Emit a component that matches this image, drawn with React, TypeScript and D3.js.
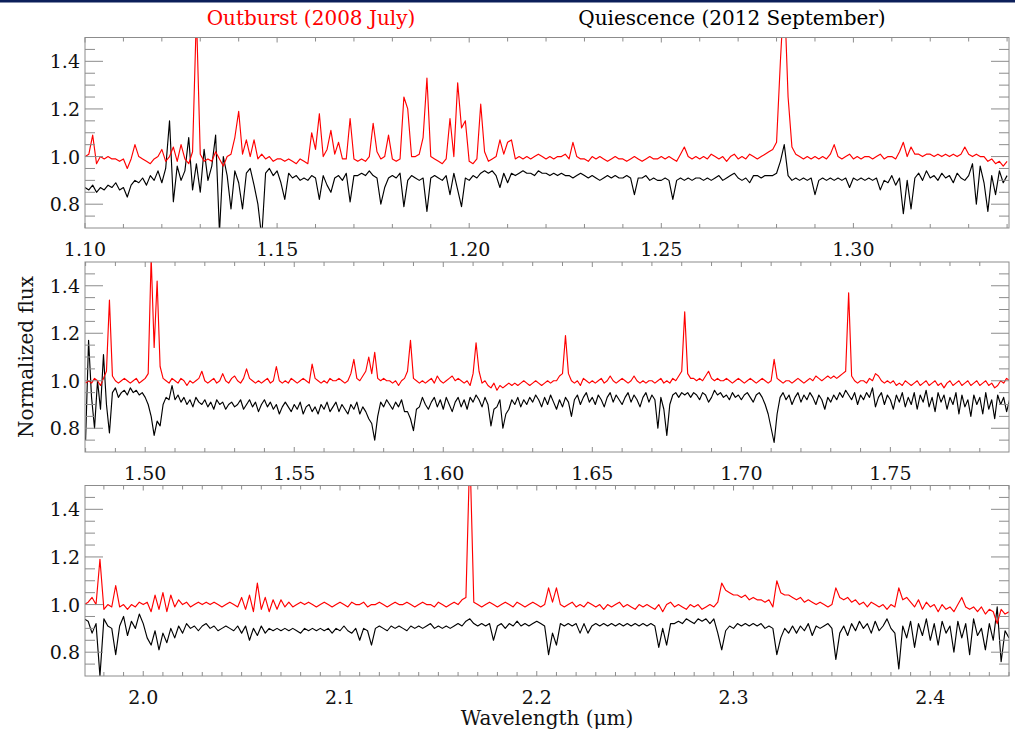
import React from "react";
import * as d3 from "d3";

// ---- Data: normalized flux x 100, sampled on uniform wavelength grids (µm) ----
const band1Start = 1.1;
const band1Step = 0.001;
const band1Outburst = [
  100,101,109,97,100,99,100,99,99,98,
  99,95,99,105,100,99,98,97,99,100,
  103,98,100,104,98,105,99,97,102,160,
  101,98,99,98,102,99,96,100,101,108,
  119,101,107,100,107,99,101,99,100,98,
  99,99,98,99,98,97,99,98,97,110,
  103,118,100,103,111,101,106,99,99,116,
  99,98,99,98,100,114,102,99,100,109,
  99,98,99,125,120,100,100,101,108,133,
  100,99,98,97,99,116,100,131,112,115,
  98,97,99,122,102,98,99,100,107,101,
  106,107,99,100,99,100,99,100,101,100,
  99,100,99,100,100,101,99,106,100,99,
  99,98,100,99,100,99,98,99,100,99,
  99,98,99,100,99,98,99,100,99,99,
  100,99,100,99,98,101,104,100,99,100,
  99,100,99,101,100,99,100,98,100,101,
  99,100,99,101,100,99,100,101,102,103,
  106,140,170,125,104,101,100,99,100,99,
  100,99,100,99,101,105,100,99,100,101,
  99,100,99,100,100,99,100,101,99,100,
  100,99,102,106,100,104,101,101,100,101,
  101,100,101,100,101,100,101,100,101,104,
  101,100,101,100,100,98,99,97,98,96,98,
];
const band1Quiescence = [
  87,86,88,85,87,86,88,87,89,86,
  87,83,88,90,89,91,88,92,90,94,
  89,95,115,81,96,90,94,108,86,97,
  85,103,90,96,109,68,100,92,78,94,
  89,78,93,95,88,80,66,93,95,92,
  94,89,82,93,91,92,90,91,90,92,
  91,82,92,88,85,91,92,90,93,81,
  92,92,93,92,94,92,91,80,87,91,
  92,91,93,79,90,92,91,90,91,77,
  91,92,91,90,92,84,93,86,79,91,
  90,92,91,93,94,93,94,92,87,93,
  89,93,92,93,94,93,93,92,94,93,
  93,92,93,92,93,92,92,91,92,93,
  92,91,92,91,90,91,92,91,92,91,
  91,92,91,84,91,91,92,90,91,90,
  90,91,90,82,90,91,90,91,90,91,
  91,90,91,90,91,92,90,91,92,93,
  91,90,91,89,92,92,91,92,92,92,
  93,98,105,92,90,91,90,91,90,91,
  84,90,91,90,91,90,91,90,91,87,
  91,90,91,90,91,90,91,86,90,89,
  92,88,91,76,90,78,91,93,90,94,
  91,92,90,93,91,92,89,93,91,90,
  92,97,80,96,89,77,92,84,94,89,92,
];

const band2Start = 1.48;
const band2Step = 0.001;
const band2Outburst = [
  99,100,99,101,100,98,101,104,134,102,
  100,99,100,101,100,99,100,101,99,100,
  101,103,152,114,142,106,101,100,99,101,
  100,99,101,100,98,100,99,100,101,104,
  100,99,100,101,99,100,103,100,99,101,
  102,100,99,101,105,101,100,99,100,99,
  100,101,99,100,106,100,99,100,99,101,
  100,99,100,101,100,99,107,101,100,99,
  100,99,101,100,100,101,100,99,100,103,
  109,101,100,102,104,110,103,112,101,100,
  101,100,100,99,100,98,100,101,104,117,
  101,100,99,100,99,100,101,99,102,100,
  99,100,101,102,100,101,100,99,100,98,
  103,116,104,99,100,98,97,99,96,98,
  97,98,99,98,99,98,99,100,99,98,
  99,100,99,98,99,100,99,100,100,102,
  103,119,103,100,99,100,98,101,100,99,
  100,99,100,101,99,100,102,100,99,100,
  101,100,99,100,102,100,99,100,99,100,
  100,99,100,101,99,100,99,101,100,102,
  104,129,103,101,101,100,101,100,102,104,
  101,100,101,100,100,101,100,99,100,101,
  100,99,100,101,100,99,100,101,100,99,
  100,109,101,100,99,100,100,99,100,101,
  100,99,100,101,100,102,101,100,101,102,
  101,102,101,102,103,104,137,102,100,99,
  100,100,99,101,100,103,102,100,99,100,
  99,100,98,99,98,100,99,98,99,100,
  98,99,100,98,99,100,98,99,97,99,
  100,98,99,100,98,99,100,98,99,100,
  98,99,100,98,99,97,98,100,99,101,100,
];
const band2Quiescence = [
  75,117,93,80,100,88,111,90,78,95,
  97,93,95,96,94,97,95,96,94,95,
  93,90,85,77,83,81,90,93,92,98,
  92,94,91,93,90,92,89,93,91,90,
  92,89,91,88,92,90,91,88,90,91,
  89,90,92,88,90,92,89,91,87,90,
  92,89,91,88,90,86,89,91,89,87,
  90,88,91,86,89,90,87,89,86,90,
  88,91,87,89,91,87,90,88,86,90,
  88,91,86,89,87,84,82,75,85,91,
  89,92,90,88,91,89,92,87,87,84,
  79,88,89,93,90,88,91,93,89,92,
  88,93,90,87,91,93,89,92,88,93,
  91,94,92,89,93,90,81,88,89,92,
  80,86,88,92,90,93,89,92,90,93,
  91,94,92,89,93,90,94,91,88,92,
  89,93,91,85,92,94,90,93,95,91,
  93,90,94,92,89,93,95,91,94,92,
  90,93,95,91,94,92,89,93,95,91,
  94,92,80,93,88,77,90,94,95,93,
  95,94,95,93,95,94,92,95,94,91,
  93,96,94,95,93,94,92,95,93,94,
  92,94,95,93,91,94,95,93,90,86,
  80,74,86,93,95,92,94,90,93,95,
  91,94,92,95,93,90,94,92,88,93,
  91,94,92,95,93,96,94,92,95,90,
  94,92,95,93,97,89,93,95,90,94,
  92,88,94,91,95,89,93,90,95,88,
  94,91,96,89,93,87,95,91,94,88,
  93,90,95,86,94,89,92,85,94,90,
  93,86,95,88,92,84,94,90,93,87,92,
];

const band3Start = 1.97;
const band3Step = 0.002;
const band3Outburst = [
  100,101,103,100,119,98,100,99,108,99,
  100,98,100,99,101,100,101,97,104,98,
  105,97,104,99,102,100,101,99,100,101,
  100,101,100,101,100,99,100,101,100,99,
  103,98,104,97,109,98,103,97,102,98,
  102,99,101,99,100,101,100,101,100,99,
  100,101,100,99,100,101,100,99,101,100,
  100,101,99,100,100,101,100,99,100,101,
  100,100,101,100,99,100,101,100,100,99,
  101,100,99,100,101,100,102,103,165,101,
  100,99,100,101,100,99,100,101,100,99,
  101,100,99,100,101,100,99,100,107,101,
  107,100,99,100,101,99,100,99,101,100,
  99,100,98,100,99,100,101,99,100,99,
  98,100,99,100,99,98,100,97,100,101,
  99,100,99,98,100,99,100,98,99,100,
  99,101,109,106,105,104,104,103,104,102,
  103,102,102,101,102,99,110,105,104,104,
  103,102,103,101,102,101,100,101,100,99,
  100,107,103,102,103,101,102,100,101,99,
  101,100,99,100,98,100,99,107,102,103,
  101,99,102,98,101,99,100,97,100,98,
  99,97,100,103,99,98,99,97,99,96,
  98,97,92,98,96,97,
];
const band3Quiescence = [
  94,93,88,92,70,94,91,90,79,91,
  95,87,93,90,96,92,86,83,89,81,
  88,84,90,86,91,88,92,90,91,89,
  91,92,90,91,89,90,91,90,89,91,
  88,91,85,90,87,91,88,90,89,90,
  89,90,89,90,89,88,90,89,90,89,
  90,89,90,88,90,89,91,89,88,90,
  85,90,89,83,90,91,90,89,91,90,
  91,90,89,91,90,91,90,91,92,90,
  91,90,91,90,91,92,91,93,94,92,
  91,92,91,92,85,91,92,90,92,91,
  93,91,92,91,92,93,92,91,79,88,
  83,92,91,92,91,92,88,92,88,91,
  92,91,92,91,92,91,92,91,92,91,
  92,91,92,91,92,91,82,90,83,92,
  92,93,92,94,93,92,94,93,94,92,
  94,88,81,89,91,90,92,91,92,91,
  92,91,92,90,91,90,79,86,90,88,
  91,88,91,89,92,87,91,90,91,92,
  90,77,88,91,87,92,89,93,90,92,
  88,93,89,91,94,90,88,73,91,86,
  93,82,92,87,94,85,92,83,93,88,
  91,80,93,86,92,79,94,87,90,81,
  92,85,99,76,89,86,
];

// axis domains and tick labels
const band1Domain = [1.1, 1.3405];
const band2Domain = [1.4798, 1.7898];
const band3Domain = [1.9704, 2.44];
const band1TickValues = [1.1, 1.15, 1.2, 1.25, 1.3];
const band1TickLabels = ["1.10", "1.15", "1.20", "1.25", "1.30"];
const band2TickValues = [1.5, 1.55, 1.6, 1.65, 1.7, 1.75];
const band2TickLabels = ["1.50", "1.55", "1.60", "1.65", "1.70", "1.75"];
const band3TickValues = [2.0, 2.1, 2.2, 2.3, 2.4];
const band3TickLabels = ["2.0", "2.1", "2.2", "2.3", "2.4"];
const fluxDomain = [0.7, 1.5];
const fluxTickValues = [0.8, 1.0, 1.2, 1.4];
const fluxTickLabels = ["0.8", "1.0", "1.2", "1.4"];
const fluxMinorStep = 0.05;
const waveMinorStep = 0.01;

const seriesNames = ["Outburst (2008 July)", "Quiescence (2012 September)"];
const seriesColors = ["#ff0000", "#000000"];

// ---- Layout ----
const W = 1015;
const H = 731;
const LEFT = 85;
const RIGHT = 1009;
const FONT = "'DejaVu Serif', serif";
const AXIS_COLOR = "#8c8c8c";

const panelBoxes = [
  { top: 37.5, bottom: 228 },
  { top: 262, bottom: 452 },
  { top: 485.5, bottom: 676 },
];

const panels = [
  { start: band1Start, step: band1Step, outburst: band1Outburst, quiescence: band1Quiescence, domain: band1Domain, ticks: band1TickValues, labels: band1TickLabels },
  { start: band2Start, step: band2Step, outburst: band2Outburst, quiescence: band2Quiescence, domain: band2Domain, ticks: band2TickValues, labels: band2TickLabels },
  { start: band3Start, step: band3Step, outburst: band3Outburst, quiescence: band3Quiescence, domain: band3Domain, ticks: band3TickValues, labels: band3TickLabels },
];

function Panel({ p, box, idx }: any) {
  const x = d3.scaleLinear().domain(p.domain).range([LEFT, RIGHT]);
  const y = d3.scaleLinear().domain(fluxDomain).range([box.bottom, box.top]);
  const waves = (arr: number[]) => arr.map((_, i) => p.start + i * p.step);
  const wo = waves(p.outburst);
  const wq = waves(p.quiescence);
  const lineGen = (w: number[]) =>
    d3
      .line<number>()
      .x((_, i) => x(w[i]))
      .y((d) => y(d / 100));

  const minorX = d3
    .range(Math.ceil(p.domain[0] / waveMinorStep - 1e-6), Math.floor(p.domain[1] / waveMinorStep + 1e-6) + 1)
    .map((k) => k * waveMinorStep);
  const minorY = d3
    .range(Math.round(fluxDomain[0] / fluxMinorStep) + 1, Math.round(fluxDomain[1] / fluxMinorStep))
    .map((k) => k * fluxMinorStep);
  const isMajorY = (v: number) => fluxTickValues.some((t) => Math.abs(t - v) < 1e-6);
  const isMajorX = (v: number) => p.ticks.some((t: number) => Math.abs(t - v) < 1e-6);
  const clipId = `clip-${idx}`;

  return (
    <g>
      <defs>
        <clipPath id={clipId}>
          <rect x={LEFT} y={box.top} width={RIGHT - LEFT} height={box.bottom - box.top} />
        </clipPath>
      </defs>
      <g clipPath={`url(#${clipId})`} fill="none" strokeWidth={1.15} strokeLinejoin="round">
        <path d={lineGen(wq)(p.quiescence) || ""} stroke={seriesColors[1]} />
        <path d={lineGen(wo)(p.outburst) || ""} stroke={seriesColors[0]} />
      </g>
      {/* frame */}
      <rect x={LEFT} y={box.top} width={RIGHT - LEFT} height={box.bottom - box.top} fill="none" stroke={AXIS_COLOR} strokeWidth={1} />
      {/* y ticks */}
      {minorY.map((v, i) => {
        const len = isMajorY(v) ? 18 : 10;
        const yy = y(v);
        return (
          <g key={`yt${i}`} stroke={AXIS_COLOR} strokeWidth={1}>
            <line x1={LEFT} x2={LEFT + len} y1={yy} y2={yy} />
            <line x1={RIGHT} x2={RIGHT - len} y1={yy} y2={yy} />
          </g>
        );
      })}
      {fluxTickValues.map((v, i) => (
        <text key={`yl${i}`} x={80} y={y(v)} textAnchor="end" dominantBaseline="central" fontFamily={FONT} fontSize={19} fill="#111">
          {fluxTickLabels[i]}
        </text>
      ))}
      {/* x ticks */}
      {minorX.map((v, i) => {
        const len = isMajorX(v) ? 5 : 4;
        const xx = x(v);
        return (
          <g key={`xt${i}`} stroke={AXIS_COLOR} strokeWidth={1}>
            <line x1={xx} x2={xx} y1={box.bottom} y2={box.bottom - len} />
            <line x1={xx} x2={xx} y1={box.top} y2={box.top + len} />
          </g>
        );
      })}
      {p.ticks.map((v: number, i: number) => (
        <text key={`xl${i}`} x={x(v)} y={box.bottom + 21} textAnchor="middle" dominantBaseline="central" fontFamily={FONT} fontSize={19} fill="#111">
          {p.labels[i]}
        </text>
      ))}
    </g>
  );
}

export default function App() {
  return (
    <svg width={W} height={H} viewBox={`0 0 ${W} ${H}`} style={{ position: "absolute", left: 0, top: 0, background: "#fff" }}>
      <rect x={0} y={0} width={W} height={H} fill="#fff" />
      <rect x={0} y={0} width={W} height={2.5} fill="#0c1f5a" />
      <text x={311} y={18} textAnchor="middle" dominantBaseline="central" fontFamily={FONT} fontSize={20} fill={seriesColors[0]}>
        {seriesNames[0]}
      </text>
      <text x={732} y={18} textAnchor="middle" dominantBaseline="central" fontFamily={FONT} fontSize={20} fill={seriesColors[1]}>
        {seriesNames[1]}
      </text>
      {panels.map((p, i) => (
        <Panel key={i} p={p} box={panelBoxes[i]} idx={i} />
      ))}
      <text transform="translate(33,357) rotate(-90)" textAnchor="middle" fontFamily={FONT} fontSize={20} fill="#111">
        Normalized flux
      </text>
      <text x={547} y={718} textAnchor="middle" dominantBaseline="central" fontFamily={FONT} fontSize={20} fill="#111">
        Wavelength (μm)
      </text>
    </svg>
  );
}
